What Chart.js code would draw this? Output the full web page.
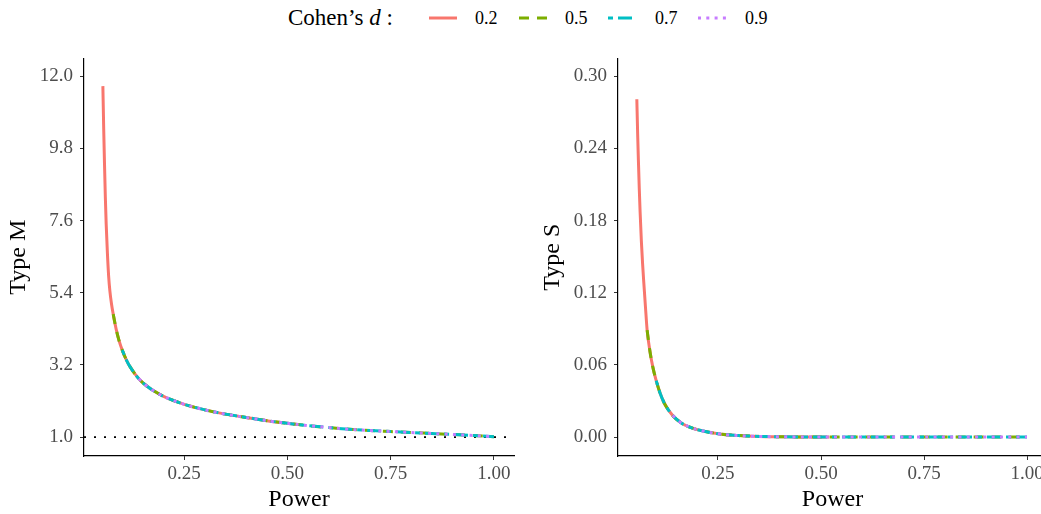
<!DOCTYPE html>
<html>
<head>
<meta charset="utf-8">
<script src="https://cdn.jsdelivr.net/npm/chart.js@4.4.1/dist/chart.umd.min.js"></script>
<style>
  html, body { margin: 0; padding: 0; background: #fff; overflow: hidden; }
  body { width: 1041px; height: 514px; position: relative; font-family: "Liberation Serif", serif; }
  .pane { position: absolute; top: 40px; height: 474px; }
  #leftWrap { left: 0; width: 525px; }
  #rightWrap { left: 530px; width: 528px; }
  .lg { position: absolute; top: 0; height: 36px; line-height: 36px; color: #000; white-space: nowrap; }
  .lg.title { font-size: 23px; }
  .lg.lab { font-size: 18px; }
  .lg svg { position: absolute; top: 16px; }
</style>
</head>
<body>
<div class="lg title" style="left:288px">Cohen’s <i>d</i> :</div>
<div id="legendKeys"></div>

<div id="leftWrap" class="pane"><canvas id="typeMChart" width="525" height="474"></canvas></div>
<div id="rightWrap" class="pane"><canvas id="typeSChart" width="528" height="474"></canvas></div>

<script>
// values
var cohenD = ['0.2', '0.5', '0.7', '0.9'];
var lineColors = ['#F8766D', '#7CAE00', '#00BFC4', '#C77CFF'];
var powerStart = [0.053, 0.078, 0.100, 0.140];
var powerEnd = [0.52, 1.0, 1.0, 1.0];

var power = [0.053, 0.055, 0.057, 0.059, 0.061, 0.064, 0.067, 0.070, 0.074, 0.078,
             0.085, 0.092, 0.100, 0.110, 0.120, 0.140, 0.160, 0.180, 0.200, 0.250,
             0.300, 0.350, 0.400, 0.450, 0.500, 0.520, 0.550, 0.600, 0.650, 0.700,
             0.750, 0.800, 0.850, 0.900, 0.950, 1.000];
var typeM = [11.7, 10.4, 9.3, 8.3, 7.5, 6.6, 5.9, 5.45, 5.05, 4.75,
             4.3, 3.95, 3.65, 3.35, 3.12, 2.78, 2.55, 2.38, 2.24, 2.0,
             1.83, 1.70, 1.60, 1.50, 1.42, 1.39, 1.35, 1.29, 1.24, 1.20,
             1.17, 1.14, 1.11, 1.08, 1.05, 1.01];
var typeS = [0.281, 0.252, 0.228, 0.206, 0.187, 0.163, 0.144, 0.128, 0.108, 0.089,
             0.071, 0.058, 0.047, 0.036, 0.028, 0.018, 0.012, 0.0085, 0.0062, 0.0028,
             0.0013, 0.0006, 0.0003, 0.0001, 0, 0, 0, 0, 0, 0,
             0, 0, 0, 0, 0, 0];

var powerTicks = [0.25, 0.50, 0.75, 1.00];
var typeMTicks = [1.0, 3.2, 5.4, 7.6, 9.8, 12.0];
var typeSTicks = [0.00, 0.06, 0.12, 0.18, 0.24, 0.30];

// line styles for each d (ggplot solid / dashed / twodash / dotted)
var dashes = [[], [10, 8], [5, 5, 14, 5], [3, 5.3]];

// legend keys
var keyLeft = [429, 519, 608, 698];
var labLeft = [475, 565, 655, 745];
var keysHtml = '';
cohenD.forEach(function (d, i) {
    keysHtml += '<div class="lg" style="left:' + keyLeft[i] + 'px;width:30px">' +
        '<svg width="30" height="4"><line x1="0" y1="2" x2="28" y2="2" stroke="' + lineColors[i] +
        '" stroke-width="3" stroke-dasharray="' + (dashes[i].length ? dashes[i].join(' ') : 'none') + '"/></svg></div>';
    keysHtml += '<div class="lg lab" style="left:' + labLeft[i] + 'px">' + d + '</div>';
});
document.getElementById('legendKeys').innerHTML = keysHtml;

function buildDatasets(yValues) {
    return cohenD.map(function (d, i) {
        var pts = [];
        for (var k = 0; k < power.length; k++) {
            if (power[k] >= powerStart[i] - 1e-9 && power[k] <= powerEnd[i] + 1e-9) {
                pts.push({ x: power[k], y: yValues[k] });
            }
        }
        return {
            label: d,
            data: pts,
            borderColor: lineColors[i],
            borderWidth: 3,
            borderDash: dashes[i],
            pointRadius: 0,
            cubicInterpolationMode: 'monotone',
            order: 4 - i
        };
    });
}

var tickFont = { family: 'Liberation Serif', size: 19 };
var titleFont = { family: 'Liberation Serif', size: 24 };

function makeChart(canvasId, yValues, yTicks, yMin, yMax, decimals, yTitle, yWidth, titlePad, hline) {
    var datasets = buildDatasets(yValues);
    var xMin = 0.0073, xMax = 1.0485;
    if (hline !== null) {
        datasets.push({
            label: 'ref',
            data: [{ x: xMin, y: hline }, { x: xMax, y: hline }],
            borderColor: '#000',
            borderWidth: 1.8,
            borderDash: [2, 8],
            pointRadius: 0,
            order: 10
        });
    }
    return new Chart(document.getElementById(canvasId).getContext('2d'), {
        type: 'line',
        data: { datasets: datasets },
        options: {
            responsive: false,
            animation: false,
            layout: { padding: { top: 16, right: 11, left: 0, bottom: 0 } },
            plugins: { legend: { display: false }, tooltip: { enabled: false } },
            scales: {
                x: {
                    type: 'linear',
                    min: xMin,
                    max: xMax,
                    afterBuildTicks: function (s) { s.ticks = powerTicks.map(function (v) { return { value: v }; }); },
                    afterFit: function (s) { s.height = 58; },
                    grid: { drawOnChartArea: false, drawTicks: true, tickLength: 4, color: '#333' },
                    border: { display: true, color: '#000', width: 1.2 },
                    ticks: {
                        font: tickFont, color: '#4D4D4D', padding: 3, maxRotation: 0,
                        callback: function (v) { return Number(v).toFixed(2); }
                    },
                    title: { display: true, text: 'Power', font: titleFont, color: '#000', padding: { top: 0, bottom: 0 } }
                },
                y: {
                    type: 'linear',
                    min: yMin,
                    max: yMax,
                    afterBuildTicks: function (s) { s.ticks = yTicks.map(function (v) { return { value: v }; }); },
                    afterFit: function (s) { s.width = yWidth; },
                    grid: { drawOnChartArea: false, drawTicks: true, tickLength: 4, color: '#333' },
                    border: { display: true, color: '#000', width: 1.2 },
                    ticks: {
                        font: tickFont, color: '#4D4D4D', padding: 7,
                        callback: function (v) { return Number(v).toFixed(decimals); }
                    },
                    title: { display: true, text: yTitle, font: titleFont, color: '#000', padding: { top: titlePad, bottom: 0 } }
                }
            }
        }
    });
}

makeChart('typeMChart', typeM, typeMTicks, 0.424, 12.545, 1, 'Type M', 84, 4, 1.0);
makeChart('typeSChart', typeS, typeSTicks, -0.0157, 0.3149, 2, 'Type S', 88, 8, null);
</script>
</body>
</html>
